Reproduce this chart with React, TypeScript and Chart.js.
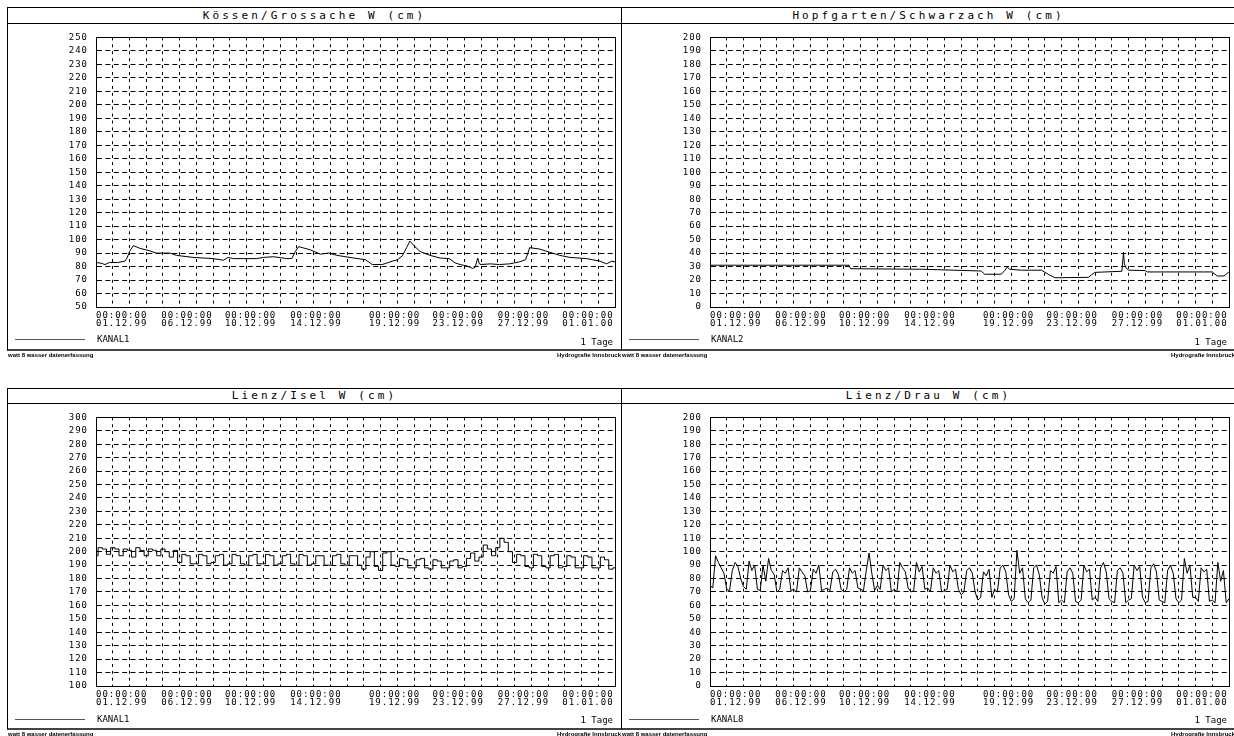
import React, { useEffect, useRef } from 'react';
import { Chart, registerables } from 'chart.js';

Chart.register(...registerables);

const MONO = '"DejaVu Sans Mono", monospace';

// ---- axis data ----
const DAY_MIN = 0;
const DAY_MAX = 31;
// label anchors (in days from 01.12.99 00:00) where the left edge of each two-line label sits
const xLabelDays = [0, 3.9, 7.7, 11.6, 16.3, 20.1, 24.0, 27.85];
const xTickTimes = ['00:00:00', '00:00:00', '00:00:00', '00:00:00', '00:00:00', '00:00:00', '00:00:00', '00:00:00'];
const xTickDates = ['01.12.99', '06.12.99', '10.12.99', '14.12.99', '19.12.99', '23.12.99', '27.12.99', '01.01.00'];

// ---- Kössen/Grossache ----
const kossenDays = [0, 0.3, 0.54, 0.8, 1.3, 1.73, 1.85, 2.0, 2.23, 2.63, 3.23, 3.6, 4.42, 4.8, 5.8, 7.0, 7.6, 7.9, 8.2, 9.6, 10.0, 10.6, 11.4, 11.7, 11.9, 12.1, 12.8, 13.4, 13.9, 14.4, 15.4, 16.1, 16.5, 17.1, 17.7, 18.0, 18.3, 18.55, 18.75, 19.05, 19.35, 19.95, 20.55, 21.1, 21.45, 21.75, 21.95, 22.2, 22.5, 22.65, 22.8, 22.9, 23.0, 23.55, 24.1, 24.7, 25.3, 25.65, 25.8, 25.9, 26.5, 27.1, 27.7, 28.3, 29.3, 30.1, 30.5, 30.8, 31];
const kossenValues = [83, 82.5, 81.5, 83, 83, 84, 86.3, 91, 95.5, 93.5, 91.6, 90, 90, 88.3, 86.8, 85.9, 84.7, 86.8, 85.9, 85.9, 86.8, 87.3, 85.9, 86, 91, 94.8, 92.4, 89.2, 90, 88.3, 86.3, 85.1, 81.5, 81.5, 84, 85, 88, 94, 98.9, 94.8, 91.2, 88.3, 86.3, 85.9, 82.7, 81.5, 81, 80.3, 78.6, 79.5, 86.3, 82, 81.5, 82, 81.5, 82, 83.5, 85, 90, 94, 93, 90.6, 88.3, 86.8, 85.9, 84, 82, 84, 83.5];

// ---- Hopfgarten/Schwarzach ----
const hopfgartenDays = [0, 8.3, 8.4, 12.7, 16.2, 16.4, 17.4, 17.6, 17.75, 17.9, 18.6, 19.8, 20.2, 20.6, 22.6, 22.8, 23.0, 24.6, 24.7, 24.75, 24.85, 25.0, 26.0, 26.1, 30.0, 30.3, 30.7, 31];
const hopfgartenValues = [31, 31, 28.4, 28, 26.7, 24.3, 24.3, 27, 29.6, 28, 27.3, 27.3, 24.3, 21.7, 22, 24, 25.7, 26.5, 40.6, 32, 29, 27.3, 27, 26, 26, 23, 23, 26];

// ---- Lienz/Isel: one value every quarter day ----
const iselStepDays = 0.25;
const iselValues = [
  197, 203, 202, 198,
  203, 202, 197, 202,
  201, 196, 203, 201,
  197, 202, 201, 197,
  202, 200, 196, 201,
  192, 198, 197, 191,
  191, 198, 197, 191,
  192, 197, 198, 190,
  191, 198, 197, 191,
  190, 197, 198, 191,
  191, 198, 197, 190,
  191, 197, 198, 191,
  190, 198, 197, 190,
  191, 197, 197, 190,
  190, 197, 198, 191,
  190, 197, 197, 190,
  187, 196, 200, 189,
  186, 199, 200, 190,
  189, 195, 194, 188,
  188, 194, 195, 188,
  187, 194, 193, 188,
  188, 193, 194, 188,
  189, 195, 199, 193,
  196, 205, 202, 197,
  203, 210, 207, 200,
  192, 198, 197, 189,
  188, 198, 197, 189,
  188, 197, 198, 188,
  189, 197, 196, 188,
  188, 197, 196, 188,
  188, 196, 194, 187,
  188,
];

// ---- Lienz/Drau: one value every four hours ----
const drauStepDays = 1 / 6;
const drauValues = [
  75, 73, 97, 92, 88, 84,
  72, 71, 86, 92, 89, 80,
  74, 72, 93, 86, 90, 72,
  71, 90, 78, 95, 86, 83,
  70, 72, 86, 84, 88, 71,
  72, 70, 88, 85, 82, 70,
  71, 87, 84, 90, 71, 72,
  73, 71, 85, 87, 83, 72,
  70, 72, 88, 84, 86, 73,
  72, 71, 86, 99, 84, 71,
  75, 72, 90, 86, 88, 70,
  72, 70, 92, 88, 85, 73,
  70, 71, 92, 85, 89, 72,
  73, 70, 88, 84, 86, 70,
  71, 72, 90, 85, 87, 72,
  68, 70, 86, 88, 84, 70,
  64, 66, 85, 82, 87, 66,
  72, 70, 88, 90, 85, 68,
  63, 65, 101, 84, 88, 65,
  62, 64, 88, 90, 83, 66,
  61, 63, 86, 84, 89, 62,
  64, 62, 85, 88, 84, 63,
  62, 64, 90, 85, 87, 64,
  66, 63, 88, 92, 85, 65,
  63, 62, 86, 88, 84, 62,
  64, 65, 90, 86, 89, 66,
  62, 63, 88, 91, 85, 64,
  63, 62, 86, 90, 84, 65,
  62, 64, 95, 84, 90, 66,
  66, 63, 88, 85, 87, 63,
  64, 62, 92, 78, 86, 62,
  65,
];

const footerLeft = 'watt 8 wasser datenerfassung';
const footerRight = 'Hydrografie Innsbruck';

type RowSpec = { top: number; outerH: number; titleH: number; padTop: number; legendRel: number; tageRel: number; footerTop: number };
const ROWS: RowSpec[] = [
  { top: 7, outerH: 344, titleH: 15, padTop: 6, legendRel: 331, tageRel: 334, footerTop: 352 },
  { top: 388, outerH: 342, titleH: 14, padTop: 8, legendRel: 330, tageRel: 331, footerTop: 731 },
];
const COL_LEFT = [7, 621];
const PANEL_W = 615;
const CANVAS_W = 613;
const AXIS_W = 88;
const PAD_RIGHT = 6;
const XAXIS_H = 42;

type PanelSpec = {
  title: string;
  legend: string;
  col: number;
  row: number;
  yMin: number;
  yMax: number;
  points: { x: number; y: number }[];
  stepped: false | 'middle';
};

const pair = (days: number[], vals: number[]) => days.map((d, i) => ({ x: d, y: vals[i] }));
const regular = (vals: number[], step: number) => vals.map((v, i) => ({ x: i * step, y: v }));

const PANELS: PanelSpec[] = [
  { title: 'Kössen/Grossache W (cm)', legend: 'KANAL1', col: 0, row: 0, yMin: 50, yMax: 250, points: pair(kossenDays, kossenValues), stepped: false },
  { title: 'Hopfgarten/Schwarzach W (cm)', legend: 'KANAL2', col: 1, row: 0, yMin: 0, yMax: 200, points: pair(hopfgartenDays, hopfgartenValues), stepped: false },
  { title: 'Lienz/Isel W (cm)', legend: 'KANAL1', col: 0, row: 1, yMin: 100, yMax: 300, points: regular(iselValues, iselStepDays), stepped: 'middle' },
  { title: 'Lienz/Drau W (cm)', legend: 'KANAL8', col: 1, row: 1, yMin: 0, yMax: 200, points: regular(drauValues, drauStepDays), stepped: false },
];

const spacingPlugin = {
  id: 'tickLetterSpacing',
  beforeUpdate(chart: any) { chart.ctx.letterSpacing = '1px'; },
  beforeDraw(chart: any) { chart.ctx.letterSpacing = '1px'; },
};

const framePlugin = {
  id: 'plotFrame',
  afterDatasetsDraw(chart: any) {
    const { ctx, chartArea: a } = chart;
    const l = Math.round(a.left), t = Math.round(a.top), r = Math.round(a.right), b = Math.round(a.bottom);
    ctx.save();
    ctx.setLineDash([]);
    ctx.strokeStyle = '#000';
    ctx.lineWidth = 1;
    ctx.strokeRect(l + 0.5, t + 0.5, r - l, b - t);
    ctx.restore();
  },
};

const tickFont = { family: MONO, size: 9, lineHeight: '8px' };

function Panel({ p }: { p: PanelSpec }) {
  const ref = useRef<HTMLCanvasElement>(null);
  const row = ROWS[p.row];
  const left = COL_LEFT[p.col];
  const canvasH = row.outerH - 3 - row.titleH - 1;

  useEffect(() => {
    if (!ref.current) return;
    const plotH = canvasH - row.padTop - XAXIS_H;
    const plotW = CANVAS_W - AXIS_W - PAD_RIGHT;
    const vGap = plotH / 40 - 3;
    const hGap = plotW / (DAY_MAX - DAY_MIN) / 2 - 5;
    const chart = new Chart(ref.current, {
      type: 'line',
      data: {
        datasets: [
          {
            label: p.legend,
            data: p.points,
            xAxisID: 'x',
            yAxisID: 'y',
            borderColor: '#000',
            borderWidth: 1,
            pointRadius: 0,
            fill: false,
            tension: 0,
            stepped: p.stepped,
          } as any,
        ],
      },
      options: {
        animation: false,
        responsive: false,
        devicePixelRatio: 1,
        events: [],
        layout: { padding: { top: row.padTop, right: PAD_RIGHT, left: 0, bottom: 0 } },
        plugins: { legend: { display: false }, title: { display: false }, tooltip: { enabled: false } },
        scales: {
          x: {
            type: 'linear',
            position: 'bottom',
            min: DAY_MIN,
            max: DAY_MAX,
            weight: 1,
            afterFit: (s: any) => { s.height = 0; },
            grid: { color: '#000', lineWidth: 1, drawTicks: false },
            border: { display: true, color: '#000', width: 1, dash: [3, vGap] },
            ticks: { stepSize: 1, autoSkip: false, display: false },
          },
          xl: {
            type: 'linear',
            position: 'bottom',
            min: DAY_MIN,
            max: DAY_MAX,
            weight: 0,
            afterBuildTicks: (s: any) => { s.ticks = xLabelDays.map((v) => ({ value: v })); },
            afterFit: (s: any) => { s.height = XAXIS_H; },
            grid: { display: false, drawTicks: false },
            border: { display: false },
            ticks: {
              autoSkip: false,
              maxRotation: 0,
              minRotation: 0,
              align: 'start',
              padding: 5,
              color: '#000',
              font: tickFont,
              callback: (_v: any, i: number) => [xTickTimes[i], xTickDates[i]],
            },
          },
          y: {
            min: p.yMin,
            max: p.yMax,
            afterFit: (s: any) => { s.width = AXIS_W; },
            grid: { color: '#000', lineWidth: 1, drawTicks: false },
            border: { display: true, color: '#000', width: 1, dash: [5, hGap] },
            ticks: {
              stepSize: 10,
              autoSkip: false,
              padding: 8,
              color: '#000',
              font: { family: MONO, size: 9 },
              callback: (v: any) => String(v),
            },
          },
        },
      } as any,
      plugins: [spacingPlugin, framePlugin],
    });
    return () => chart.destroy();
  }, []);

  return (
    <div
      style={{
        position: 'absolute',
        left,
        top: row.top,
        width: PANEL_W,
        height: row.outerH,
        boxSizing: 'border-box',
        borderLeft: '1px solid #000',
        borderTop: '1px solid #000',
        borderRight: '1px solid #000',
        borderBottom: '2px solid #444',
        background: '#fff',
      }}
    >
      <div
        style={{
          position: 'absolute',
          left: 0,
          top: 0,
          width: '100%',
          height: row.titleH,
          borderBottom: '1px solid #000',
          fontFamily: MONO,
          fontSize: 11,
          letterSpacing: '3.1px',
          lineHeight: `${row.titleH}px`,
          textAlign: 'center',
          color: '#000',
          whiteSpace: 'nowrap',
        }}
      >
        {p.title}
      </div>
      <canvas
        ref={ref}
        width={CANVAS_W}
        height={canvasH}
        style={{ position: 'absolute', left: 0, top: row.titleH + 1, width: CANVAS_W, height: canvasH, display: 'block' }}
      />
      <div style={{ position: 'absolute', left: 7, top: row.legendRel, width: 70, height: 1, background: '#555' }} />
      <div
        style={{
          position: 'absolute',
          left: 89,
          top: row.legendRel - 6,
          height: 12,
          lineHeight: '12px',
          fontFamily: MONO,
          fontSize: 9,
          color: '#000',
          whiteSpace: 'nowrap',
        }}
      >
        {p.legend}
      </div>
      <div
        style={{
          position: 'absolute',
          right: 8,
          top: row.tageRel - 6,
          height: 12,
          lineHeight: '12px',
          fontFamily: MONO,
          fontSize: 9,
          color: '#000',
          whiteSpace: 'nowrap',
        }}
      >
        1 Tage
      </div>
    </div>
  );
}

function Footer({ row, col }: { row: number; col: number }) {
  const r = ROWS[row];
  const left = COL_LEFT[col];
  const common: React.CSSProperties = {
    position: 'absolute',
    top: r.footerTop,
    height: 7,
    lineHeight: '7px',
    fontFamily: '"Liberation Sans", Arial, sans-serif',
    fontWeight: 'bold',
    fontSize: 6,
    color: '#000',
    whiteSpace: 'nowrap',
  };
  return (
    <>
      <div style={{ ...common, left: left + 1 }}>{footerLeft}</div>
      <div style={{ ...common, left: left, width: PANEL_W - 1, textAlign: 'right' }}>{footerRight}</div>
    </>
  );
}

export default function App() {
  return (
    <div
      style={{
        position: 'fixed',
        left: 0,
        top: 0,
        width: 1234,
        height: 736,
        overflow: 'hidden',
        background: '#fff',
      }}
    >
      {PANELS.map((p, i) => (
        <Panel key={i} p={p} />
      ))}
      <Footer row={0} col={0} />
      <Footer row={0} col={1} />
      <Footer row={1} col={0} />
      <Footer row={1} col={1} />
    </div>
  );
}
